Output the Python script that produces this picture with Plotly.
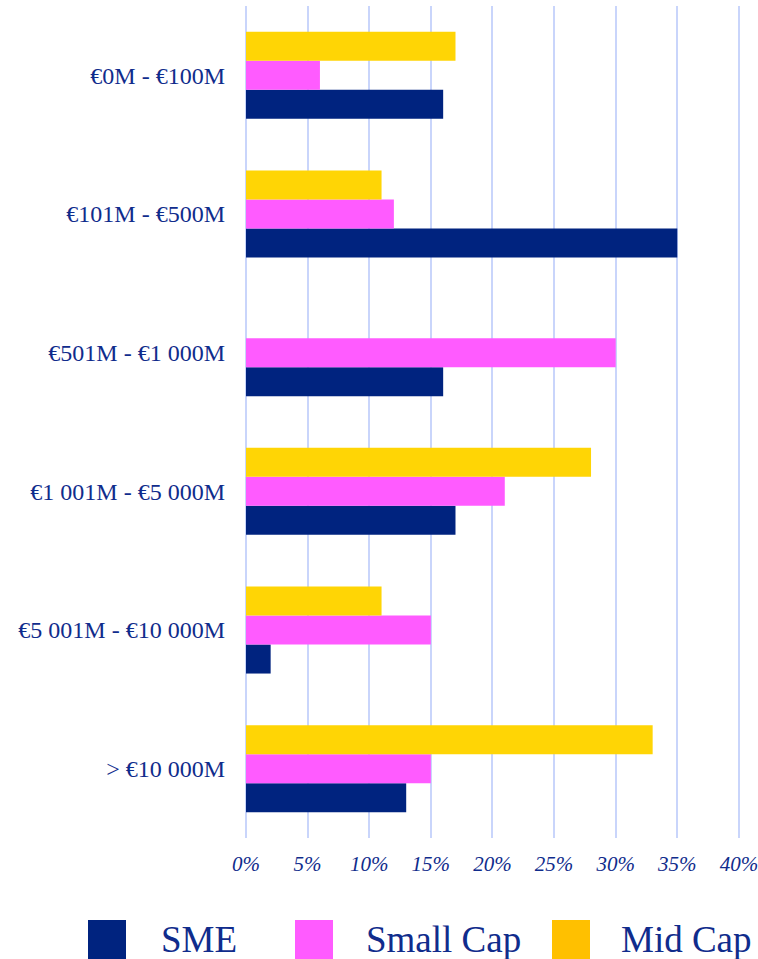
import plotly.graph_objects as go

# Market-cap bands, listed top to bottom
categories = ["€0M - €100M", "€101M - €500M", "€501M - €1 000M",
              "€1 001M - €5 000M", "€5 001M - €10 000M", "> €10 000M"]

# Share of each issuer type per band (%)
sme = [16, 35, 16, 17, 2, 13]
small_cap = [6, 12, 30, 21, 15, 15]
mid_cap = [17, 11, None, 28, 11, 33]

series_names = ["SME", "Small Cap", "Mid Cap"]
bar_colors = ["#00237F", "#FF5BFF", "#FFD505"]
legend_colors = ["#00237F", "#FF5BFF", "#FFC000"]

tick_vals = [0, 5, 10, 15, 20, 25, 30, 35, 40]
tick_text = [f"{v}%" for v in tick_vals]

W, H = 758, 959
M_L, M_R, M_T, M_B = 246, 16, 6, 121
TEXT = "#102C8C"
SERIF = "Liberation Serif"

fig = go.Figure()
for name, vals, col in zip(series_names, [sme, small_cap, mid_cap], bar_colors):
    fig.add_trace(go.Bar(
        x=vals, y=categories, name=name, orientation="h",
        marker=dict(color=col, line=dict(width=0)), showlegend=False,
    ))

# Legend drawn as large swatches with labels below the axis
plot_h = H - M_T - M_B
plot_w = W - M_L - M_R


def px_x(x):
    return (x - M_L) / plot_w


def px_y(y):
    return (H - M_B - y) / plot_h


legend_items = [(88, 159), (295, 364), (552, 619)]
for (sx, tx), name, col in zip(legend_items, series_names, legend_colors):
    fig.add_shape(type="rect", xref="paper", yref="paper",
                  x0=px_x(sx), x1=px_x(sx + 38), y0=px_y(920), y1=px_y(975),
                  fillcolor=col, line=dict(width=0), layer="above")
    fig.add_annotation(xref="paper", yref="paper", x=px_x(tx), y=px_y(940),
                       text=name, showarrow=False, xanchor="left", yanchor="middle",
                       font=dict(family=SERIF, size=37, color=TEXT))

fig.update_layout(
    width=W, height=H,
    margin=dict(l=M_L, r=M_R, t=M_T, b=M_B, pad=0, autoexpand=False),
    paper_bgcolor="white", plot_bgcolor="white",
    barmode="group", bargap=0.372, bargroupgap=0,
    xaxis=dict(range=[0, 40.25], tickvals=tick_vals, ticktext=tick_text,
               automargin=False, ticklabeloverflow="allow",
               showgrid=True, gridcolor="#C9D5FB", gridwidth=2,
               zeroline=True, zerolinecolor="#C9D5FB", zerolinewidth=2,
               showline=False, ticks="", ticklabelstandoff=11,
               tickfont=dict(family=SERIF, size=21, color=TEXT, style="italic")),
    yaxis=dict(categoryorder="array", categoryarray=categories[::-1],
               automargin=False,
               showgrid=False, zeroline=False, showline=False, ticks="",
               ticklabelstandoff=20,
               tickfont=dict(family=SERIF, size=24, color=TEXT)),
)

fig.write_html("out.html")
